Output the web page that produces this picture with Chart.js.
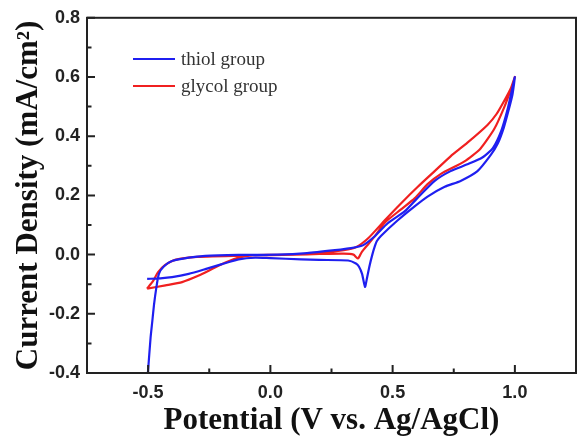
<!DOCTYPE html>
<html>
<head>
    <title>CV</title>
    <script src="https://cdn.jsdelivr.net/npm/chart.js"></script>
    <style>
        body { margin: 0; background: #fff; }
        .wrap { width: 581px; height: 436px; }
    </style>
</head>
<body>
    <div class="wrap"><canvas id="cvChart"></canvas></div>

    <script>
        // Datos (potencial en V, densidad de corriente en mA/cm2)
        const thiolV = [-0.501, -0.5, -0.49, -0.483, -0.476, -0.467, -0.456, -0.436, -0.40, -0.334, -0.266, -0.13, 0.03, 0.15, 0.264, 0.33, 0.38, 0.428, 0.48, 0.55, 0.60, 0.672, 0.737, 0.806, 0.867, 0.91, 0.945, 0.97, 0.985, 1.0,
            0.99, 0.975, 0.955, 0.93, 0.90, 0.847, 0.778, 0.713, 0.643, 0.59, 0.521, 0.452, 0.435, 0.428, 0.417, 0.405, 0.395, 0.387, 0.375, 0.362, 0.35, 0.318, 0.2, 0.126, 0.0, -0.062, -0.13, -0.198, -0.266, -0.334, -0.402, -0.45, -0.504];
        const thiolJ = [-0.40, -0.389, -0.281, -0.226, -0.17, -0.115, -0.065, -0.04, -0.021, -0.01, -0.004, -0.001, 0.0, 0.005, 0.015, 0.022, 0.032, 0.063, 0.106, 0.147, 0.19, 0.249, 0.282, 0.305, 0.328, 0.36, 0.42, 0.49, 0.545, 0.6,
            0.54, 0.49, 0.43, 0.375, 0.335, 0.282, 0.249, 0.229, 0.196, 0.163, 0.116, 0.063, 0.045, 0.03, 0.0, -0.04, -0.08, -0.109, -0.065, -0.04, -0.03, -0.02, -0.018, -0.016, -0.012, -0.01, -0.016, -0.032, -0.049, -0.065, -0.076, -0.08, -0.082];

        const glycolV = [-0.505, -0.48, -0.46, -0.43, -0.39, -0.3, -0.1, 0.1, 0.2, 0.3, 0.35, 0.40, 0.468, 0.533, 0.603, 0.672, 0.737, 0.806, 0.888, 0.925, 0.96, 0.985, 1.0,
            0.98, 0.955, 0.916, 0.859, 0.794, 0.696, 0.643, 0.59, 0.533, 0.468, 0.43, 0.40, 0.375, 0.365, 0.358, 0.35, 0.34, 0.3, 0.2, 0.1, 0.0, -0.062, -0.13, -0.184, -0.239, -0.293, -0.361, -0.429, -0.504];
        const glycolJ = [-0.115, -0.09, -0.06, -0.035, -0.018, -0.008, -0.003, 0.0, 0.005, 0.015, 0.025, 0.055, 0.116, 0.172, 0.229, 0.282, 0.332, 0.378, 0.438, 0.475, 0.525, 0.565, 0.6,
            0.55, 0.495, 0.425, 0.358, 0.315, 0.272, 0.238, 0.19, 0.152, 0.108, 0.065, 0.035, 0.01, -0.005, -0.013, -0.008, 0.0, 0.003, 0.002, 0.0, -0.001, -0.002, -0.01, -0.027, -0.049, -0.071, -0.093, -0.104, -0.115];

        const xTicks = [-0.5, 0.0, 0.5, 1.0];
        const xMinor = [-0.25, 0.25, 0.75];
        const yTicks = [-0.4, -0.2, 0.0, 0.2, 0.4, 0.6, 0.8];
        const yMinor = [-0.3, -0.1, 0.1, 0.3, 0.5, 0.7];

        function toPoints(xs, ys) {
            return xs.map((x, i) => ({ x: x, y: ys[i] }));
        }

        // Marco, ticks hacia adentro y leyenda dentro del grafico
        const framePlugin = {
            id: 'frame',
            afterDraw(chart) {
                const ctx = chart.ctx;
                const area = chart.chartArea;
                const xs = chart.scales.x, ys = chart.scales.y;
                ctx.save();
                ctx.strokeStyle = '#222';
                ctx.lineWidth = 2;
                ctx.strokeRect(area.left, area.top, area.right - area.left, area.bottom - area.top);
                ctx.beginPath();
                xTicks.concat(xMinor).forEach(v => {
                    const len = xTicks.includes(v) ? 8 : 4.5;
                    const px = xs.getPixelForValue(v);
                    ctx.moveTo(px, area.bottom);
                    ctx.lineTo(px, area.bottom - len);
                });
                yTicks.concat(yMinor).forEach(v => {
                    const len = yTicks.includes(v) ? 8 : 4.5;
                    const py = ys.getPixelForValue(v);
                    ctx.moveTo(area.left, py);
                    ctx.lineTo(area.left + len, py);
                });
                ctx.stroke();

                // leyenda
                ctx.font = '19px "Liberation Serif"';
                ctx.textBaseline = 'middle';
                chart.data.datasets.forEach((ds, i) => {
                    const y = 59 + i * 27;
                    ctx.strokeStyle = ds.borderColor;
                    ctx.lineWidth = 2;
                    ctx.beginPath();
                    ctx.moveTo(133, y);
                    ctx.lineTo(175, y);
                    ctx.stroke();
                    ctx.fillStyle = '#333';
                    ctx.fillText(ds.label, 181, y + 1);
                });
                ctx.restore();
            }
        };

        const tickFont = { family: '"Liberation Sans"', size: 18, weight: 'bold' };
        const titleFont = { family: '"Liberation Serif"', size: 31, weight: 'bold', lineHeight: 1 };

        new Chart(document.getElementById('cvChart').getContext('2d'), {
            type: 'scatter',
            data: {
                datasets: [{
                    label: 'thiol group',
                    data: toPoints(thiolV, thiolJ),
                    borderColor: '#1f1ff0',
                    backgroundColor: '#1f1ff0',
                    borderWidth: 2.2,
                    showLine: true,
                    pointRadius: 0,
                    tension: 0.2
                }, {
                    label: 'glycol group',
                    data: toPoints(glycolV, glycolJ),
                    borderColor: '#f02020',
                    backgroundColor: '#f02020',
                    borderWidth: 2.2,
                    showLine: true,
                    pointRadius: 0,
                    tension: 0.2
                }]
            },
            options: {
                responsive: true,
                maintainAspectRatio: false,
                animation: false,
                layout: { padding: { top: 12, right: 5, left: 0, bottom: 0 } },
                plugins: {
                    legend: { display: false },
                    tooltip: { enabled: false }
                },
                scales: {
                    x: {
                        type: 'linear',
                        min: -0.75,
                        max: 1.25,
                        grid: { display: false, drawTicks: false },
                        border: { display: false },
                        afterBuildTicks: s => { s.ticks = xTicks.map(v => ({ value: v })); },
                        afterFit: s => { s.height = 63; },
                        ticks: {
                            font: tickFont,
                            color: '#222',
                            padding: 9,
                            maxRotation: 0,
                            callback: v => v.toFixed(1)
                        },
                        title: {
                            display: true,
                            text: 'Potential (V vs. Ag/AgCl)',
                            font: titleFont,
                            color: '#111',
                            padding: { top: 0, bottom: 0 }
                        }
                    },
                    y: {
                        type: 'linear',
                        min: -0.4,
                        max: 0.8,
                        grid: { display: false, drawTicks: false },
                        border: { display: false },
                        afterBuildTicks: s => { s.ticks = yTicks.map(v => ({ value: v })); },
                        afterFit: s => { s.width = 87; },
                        ticks: {
                            font: tickFont,
                            color: '#222',
                            padding: 7,
                            callback: v => v.toFixed(1)
                        },
                        title: {
                            display: true,
                            text: 'Current Density (mA/cm²)',
                            font: titleFont,
                            color: '#111',
                            padding: { top: 13, bottom: 0 }
                        }
                    }
                }
            },
            plugins: [framePlugin]
        });
    </script>
</body>
</html>
